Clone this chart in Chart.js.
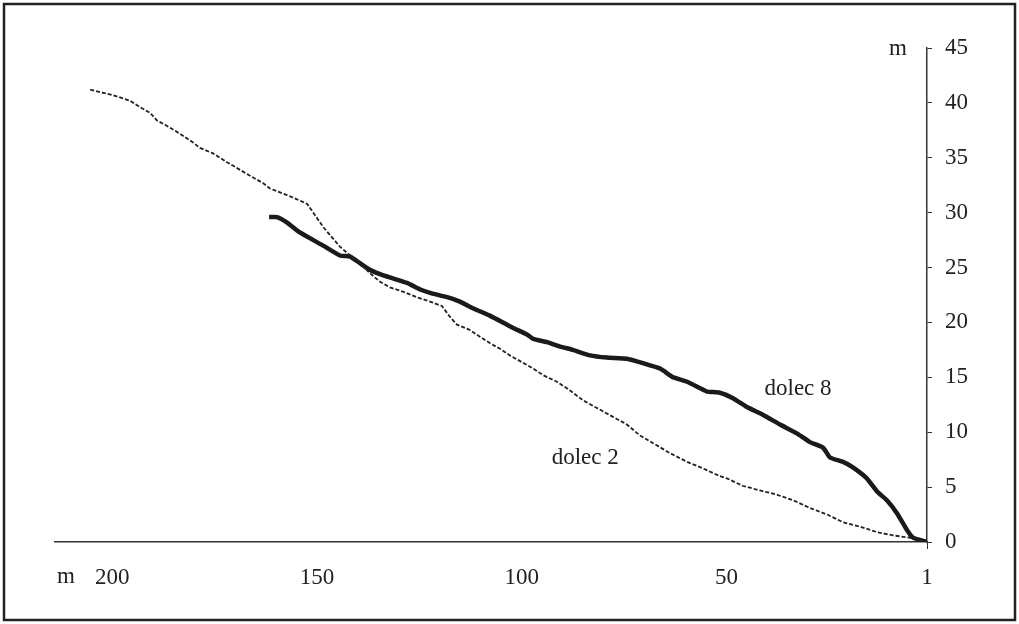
<!DOCTYPE html>
<html>
<head>
<meta charset="utf-8">
<script src="https://cdn.jsdelivr.net/npm/chart.js@4/dist/chart.umd.min.js"></script>
<style>
  html, body { margin: 0; padding: 0; background: #fff; }
  #wrap { width: 1019px; height: 624px; position: relative; }
</style>
</head>
<body>
<div id="wrap"><canvas id="c" width="1019" height="624"></canvas></div>
<script>
// odległość (m) i wysokość (m)
const DOLEC2_X = [205.4, 199.8, 195.7, 193.2, 190.8, 189.1, 187.1, 183.5, 180.3, 178.6,
  175.4, 172.0, 168.8, 165.6, 163.2, 161.5, 157.3, 154.2, 152.4, 148.5, 144.4, 141.9,
  139.5, 137.1, 134.6, 132.2, 129.0, 125.6, 122.4, 119.5, 117.5, 115.8, 112.6, 110.2,
  107.7, 105.3, 102.9, 97.2, 94.8, 91.4, 88.2, 85.0, 81.6, 77.7, 74.3, 71.1, 67.9,
  63.8, 59.6, 55.7, 51.6, 49.9, 45.9, 41.8, 37.6, 33.7, 29.6, 25.4, 21.5, 17.4, 13.2,
  9.3, 5.2, 1];
const DOLEC2_Y = [41.2, 40.7, 40.2, 39.6, 39.1, 38.4, 38.0, 37.2, 36.4, 35.9,
  35.4, 34.6, 33.9, 33.2, 32.7, 32.2, 31.6, 31.1, 30.8, 28.7, 26.9, 26.1,
  25.4, 24.5, 23.7, 23.2, 22.8, 22.3, 21.9, 21.5, 20.5, 19.8, 19.3, 18.7,
  18.1, 17.6, 17.0, 15.8, 15.2, 14.6, 13.8, 12.9, 12.2, 11.4, 10.7, 9.7, 9.0,
  8.1, 7.3, 6.7, 6.0, 5.8, 5.1, 4.7, 4.3, 3.8, 3.1, 2.5, 1.8, 1.4, 0.9,
  0.6, 0.4, 0];

const DOLEC8_X = [161.7, 159.8, 157.3, 154.2, 148.5, 144.4, 141.9, 139.5, 137.1, 134.6,
  132.2, 128.0, 124.8, 122.4, 118.2, 115.1, 111.9, 107.7, 104.6, 102.1, 98.7, 97.2,
  93.8, 90.6, 87.5, 83.3, 79.2, 74.3, 70.4, 66.2, 63.0, 59.6, 56.4, 54.7, 51.6, 48.4,
  45.0, 41.1, 36.9, 32.8, 29.6, 26.4, 24.7, 21.5, 19.1, 15.7, 13.2, 10.8, 8.3, 5.9,
  4.4, 1];
const DOLEC8_Y = [29.6, 29.6, 29.1, 28.2, 27.0, 26.1, 26.0, 25.4, 24.8, 24.4,
  24.1, 23.6, 23.0, 22.7, 22.3, 21.9, 21.3, 20.6, 20.0, 19.5, 18.9, 18.5,
  18.2, 17.8, 17.5, 17.0, 16.8, 16.7, 16.3, 15.8, 15.0, 14.6, 14.0, 13.7, 13.6, 13.1,
  12.3, 11.6, 10.7, 9.9, 9.1, 8.6, 7.7, 7.3, 6.8, 5.8, 4.6, 3.8, 2.6, 1.1,
  0.4, 0];

const X_TICKS = [200, 150, 100, 50, 1];
const X_MIN = 1, X_MAX = 214;
const Y_MIN = 0, Y_MAX = 45, Y_STEP = 5;

// podpisy serii: [tekst, x, y] w jednostkach osi
const SERIES_LABELS = [
  ['dolec 8', 32.5, 13.9],
  ['dolec 2', 84.5, 7.65],
];
const UNIT = 'm';

const FONT = '"Liberation Serif", "Times New Roman", serif';
const FONT_SIZE = 23;
const INK = '#222';

function toPoints(xs, ys) {
  return xs.map((x, i) => ({ x: x, y: ys[i] }));
}

const decorPlugin = {
  id: 'decor',
  afterDraw(chart) {
    const ctx = chart.ctx;
    const xs = chart.scales.x, ys = chart.scales.y;
    ctx.save();
    // ramka
    ctx.strokeStyle = INK;
    ctx.lineWidth = 2.5;
    ctx.strokeRect(4, 4, chart.width - 8, chart.height - 8);

    ctx.fillStyle = INK;
    ctx.font = FONT_SIZE + 'px ' + FONT;
    ctx.textBaseline = 'middle';
    ctx.textAlign = 'center';
    SERIES_LABELS.forEach(([t, x, y]) => {
      ctx.fillText(t, xs.getPixelForValue(x), ys.getPixelForValue(y));
    });
    // jednostki
    ctx.fillText(UNIT, 66, 577);
    ctx.textAlign = 'right';
    ctx.fillText(UNIT, 907, ys.getPixelForValue(Y_MAX) + 1);
    ctx.restore();
  }
};

new Chart(document.getElementById('c'), {
  type: 'line',
  data: {
    datasets: [
      {
        label: 'dolec 2',
        data: toPoints(DOLEC2_X, DOLEC2_Y),
        borderColor: INK,
        borderWidth: 1.8,
        borderDash: [4, 2],
        pointRadius: 0,
        tension: 0,
        fill: false,
      },
      {
        label: 'dolec 8',
        data: toPoints(DOLEC8_X, DOLEC8_Y),
        borderColor: '#1a1a1a',
        borderWidth: 4.5,
        borderJoinStyle: 'round',
        borderCapStyle: 'butt',
        pointRadius: 0,
        tension: 0.15,
        fill: false,
      },
    ],
  },
  options: {
    responsive: false,
    animation: false,
    devicePixelRatio: 1,
    layout: { padding: { left: 55, top: 48, right: 0, bottom: 0 } },
    plugins: {
      legend: { display: false },
      tooltip: { enabled: false },
    },
    scales: {
      x: {
        type: 'linear',
        reverse: true,
        min: X_MIN,
        max: X_MAX,
        afterBuildTicks: s => { s.ticks = X_TICKS.map(v => ({ value: v })); },
        afterFit: s => { s.height = 82; },
        border: { color: '#333', width: 1.5 },
        grid: {
          drawOnChartArea: false,
          tickLength: 7,
          tickColor: c => (c.tick && c.tick.value === 1 ? '#333' : 'rgba(0,0,0,0)'),
        },
        ticks: {
          color: INK,
          font: { family: FONT, size: FONT_SIZE },
          padding: 15,
          maxRotation: 0,
          autoSkip: false,
          callback: v => String(v),
        },
      },
      y: {
        position: 'right',
        min: Y_MIN,
        max: Y_MAX,
        afterFit: s => { s.width = 92; },
        border: { color: '#333', width: 1.5 },
        grid: { drawOnChartArea: false, tickLength: 5, tickColor: '#333' },
        ticks: {
          stepSize: Y_STEP,
          color: INK,
          font: { family: FONT, size: FONT_SIZE },
          padding: 13,
        },
      },
    },
  },
  plugins: [decorPlugin],
});
</script>
</body>
</html>
